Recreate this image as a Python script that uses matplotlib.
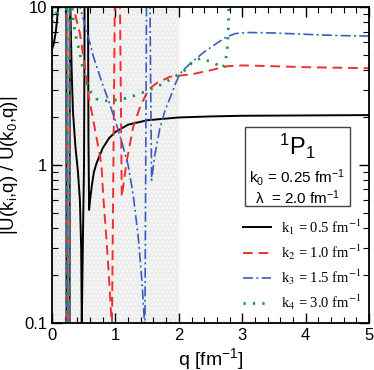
"""Ratio |U(k_i,q) / U(k_0,q)| for the 1P1 channel."""

import matplotlib
matplotlib.use("Agg")
import matplotlib.pyplot as plt
from matplotlib.font_manager import FontProperties
from matplotlib.patches import Rectangle

plt.rcParams["font.family"] = ["Liberation Sans", "DejaVu Sans"]
plt.rcParams["mathtext.fontset"] = "custom"
plt.rcParams["mathtext.rm"] = "Liberation Sans"
plt.rcParams["mathtext.it"] = "Liberation Sans"
plt.rcParams["mathtext.bf"] = "Liberation Sans:bold"

# k1 = 0.5 fm^-1
q1 = [0.0, 0.03, 0.06, 0.08, 0.1, 0.13, 0.225, 0.232, 0.275, 0.282, 0.29, 0.31,
      0.33, 0.37, 0.41, 0.44, 0.46, 0.47, 0.49, 0.505, 0.512, 0.515, 0.56, 0.568,
      0.575, 0.585, 0.6, 0.63, 0.66, 0.7, 0.8, 0.9, 1.0, 1.2, 1.5, 2.0, 2.5, 3.0,
      4.0, 5.0]
u1 = [5.4, 5.9, 7.0, 8.3, 10.3, 15, 50, 0.01, 0.01, 50, 10, 4.0,
      2.2, 1.3, 0.9, 0.6, 0.3, 0.1, 0.4, 1.0, 5.0, 50, 50, 10,
      1.5, 0.52, 0.6, 0.75, 0.9, 1.02, 1.28, 1.48, 1.62, 1.8, 1.92, 2.0, 2.03, 2.05,
      2.06, 2.07]

# k2 = 1.0 fm^-1
q2 = [0.0, 0.225, 0.232, 0.275, 0.282, 0.32, 0.336, 0.44, 0.52, 0.57, 0.65, 0.73,
      0.78, 0.81, 0.85, 0.89, 0.92, 0.945, 0.99, 0.995, 1.06, 1.072, 1.1, 1.18,
      1.28, 1.39, 1.52, 1.65, 1.86, 2.0, 2.2, 2.5, 2.76, 3.0, 3.5, 4.0, 5.0]
u2 = [50, 50, 0.01, 0.01, 50, 20, 10, 6.8, 4.2, 2.85, 1.93, 1.3,
      1.0, 0.62, 0.38, 0.22, 0.14, 0.09, 10, 50, 50, 10.5, 0.63, 1.07,
      1.74, 2.34, 3.0, 3.3, 3.62, 3.68, 3.75, 3.98, 4.22, 4.27, 4.22, 4.16, 4.1]

# k3 = 1.5 fm^-1
q3 = [0.0, 0.225, 0.232, 0.275, 0.282, 0.4, 0.44, 0.55, 0.65, 0.78, 0.9, 1.0,
      1.1, 1.2, 1.28, 1.36, 1.42, 1.465, 1.49, 1.495, 1.535, 1.545, 1.57, 1.62,
      1.7, 1.78, 1.86, 1.95, 2.02, 2.18, 2.4, 2.6, 2.76, 2.9, 3.1, 3.5, 4.0, 4.5,
      5.0]
u3 = [50, 50, 0.01, 0.01, 50, 50, 10, 7.0, 4.9, 3.4, 2.5, 1.9,
      1.4, 1.0, 0.65, 0.35, 0.18, 0.09, 10, 50, 50, 10, 0.8, 1.15,
      1.7, 2.2, 2.65, 3.3, 3.8, 4.4, 5.2, 5.9, 6.5, 6.8, 6.9, 6.85, 6.72, 6.6,
      6.55]

# k4 = 3.0 fm^-1
q4 = [0.0, 0.05, 0.1, 0.13, 0.225, 0.232, 0.275, 0.282, 0.29, 0.33, 0.36, 0.39,
      0.44, 0.49, 0.55, 0.62, 0.7, 0.8, 0.9, 1.0, 1.1, 1.2, 1.3, 1.5, 1.7, 1.9,
      2.1, 2.22, 2.35, 2.47, 2.57, 2.68, 2.72, 2.76, 2.78, 2.79, 3.0, 5.0]
u4 = [8.0, 8.8, 9.8, 12, 50, 0.01, 0.01, 50, 12, 8.7, 7.0, 6.2,
      5.1, 4.0, 3.35, 2.86, 2.62, 2.55, 2.55, 2.58, 2.62, 2.66, 2.75, 2.95, 3.2, 3.55,
      4.0, 4.5, 4.75, 4.55, 4.4, 4.1, 4.3, 5.2, 7.0, 12, 50, 50]

labels = [r"k$_1$ = 0.5 fm$^{-1}$", r"k$_2$ = 1.0 fm$^{-1}$",
          r"k$_3$ = 1.5 fm$^{-1}$", r"k$_4$ = 3.0 fm$^{-1}$"]

fig = plt.figure(figsize=(3.74, 3.70), dpi=100)
ax = fig.add_axes([0.139, 0.127, 0.848, 0.854])

# shaded low-momentum window
ax.axvspan(0, 2, facecolor="#ededed", edgecolor="#fafafa", hatch="....",
           linewidth=0, zorder=0)

ax.plot(q1, u1, color="black", lw=1.4, label=labels[0])
ax.plot(q2, u2, color="#f03030", lw=1.4, dashes=(5, 3), label=labels[1])
ax.plot(q3, u3, color="#3a5cc0", lw=1.2, dashes=(6, 2, 1.2, 2), label=labels[2])
ax.plot(q4, u4, color="#119944", lw=2.0, dashes=(0.8, 2.6), label=labels[3])

ax.set_yscale("log")
ax.set_xlim(0, 5)
ax.set_ylim(0.1, 10)
ax.set_yticks([0.1, 1, 10])
ax.set_yticklabels(["0.1", "1", "10"])
ax.set_xticks([0, 1, 2, 3, 4, 5])
ax.set_xticks([i * 0.2 for i in range(26)], minor=True)
ax.tick_params(which="both", direction="in", top=True, right=True, labelsize=12)
ax.tick_params(which="major", length=7, width=1.0)
ax.tick_params(which="minor", length=4, width=0.8)
for sp in ax.spines.values():
    sp.set_linewidth(1.3)

ax.set_xlabel(r"q [fm$^{-1}$]", fontsize=14, labelpad=2)
ax.set_ylabel(r"|U(k$_\mathrm{i}$,q) / U(k$_0$,q)|", fontsize=13.5, labelpad=3)

# parameter box
ax.add_patch(Rectangle((0.609, 0.370), 0.331, 0.250, transform=ax.transAxes,
                       facecolor="white", edgecolor="#444444", lw=1.0, zorder=5))
ax.text(0.774, 0.560, r"$^1$P$_1$", transform=ax.transAxes, ha="center",
        va="center", fontsize=17, zorder=6)
ax.text(0.774, 0.460, r"k$_0$ = 0.25 fm$^{-1}$", transform=ax.transAxes,
        ha="center", va="center", fontsize=11, zorder=6)
ax.text(0.774, 0.398, "\u03bb  = 2.0 fm$^{-1}$", transform=ax.transAxes,
        ha="center", va="center", fontsize=11, zorder=6)

leg_font = FontProperties(family="Liberation Serif", size=10.5,
                          math_fontfamily="stix")
ax.legend(loc="upper left", bbox_to_anchor=(0.603, 0.335), frameon=False,
          prop=leg_font, handlelength=1.9, handletextpad=0.7,
          labelspacing=0.4, borderpad=0, borderaxespad=0)

fig.savefig("out.png", dpi=100)
